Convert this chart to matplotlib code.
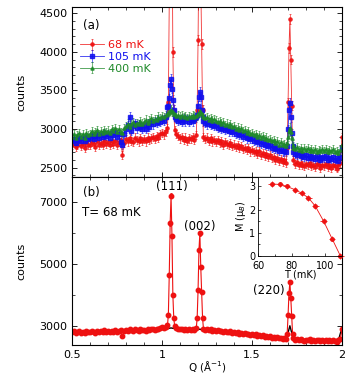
import numpy as np
import matplotlib
matplotlib.use('Agg')
import matplotlib.pyplot as plt
from matplotlib.ticker import MultipleLocator, FixedLocator, FuncFormatter

# Q grid (0.01 step) + extra points on the Bragg peaks
q_grid = np.round(np.arange(0.50, 2.0001, 0.01), 2)
q_extra = [1.035, 1.045, 1.055, 1.065, 1.195, 1.205, 1.215, 1.225, 1.695, 1.705, 1.715, 1.725]

red_grid = [2790, 2820, 2770, 2800, 2840, 2780, 2810, 2760, 2830, 2800,
            2790, 2830, 2810, 2770, 2840, 2800, 2820, 2790, 2850, 2810,
            2830, 2790, 2840, 2810, 2850, 2800, 2830, 2860, 2670, 2820,
            2870, 2840, 2880, 2850, 2830, 2890, 2860, 2840, 2880, 2850,
            2870, 2840, 2890, 2860, 2880, 2900, 2870, 2910, 2890, 2930,
            2950, 2930, 2970, 3010, 4650, 7200, 4000, 2990, 2940, 2910,
            2880, 2900, 2860, 2890, 2850, 2880, 2870, 2900, 2860, 2920,
            4150, 5980, 4100, 2900, 2870, 2890, 2850, 2880, 2840, 2860,
            2830, 2860, 2820, 2840, 2800, 2830, 2810, 2790, 2820, 2780,
            2800, 2770, 2790, 2750, 2780, 2740, 2760, 2730, 2750, 2710,
            2730, 2700, 2720, 2680, 2710, 2670, 2690, 2650, 2680, 2640,
            2660, 2620, 2640, 2600, 2630, 2590, 2610, 2570, 2600, 2560,
            3350, 4420, 3300, 2600, 2550, 2570, 2530, 2560, 2540, 2520,
            2550, 2530, 2560, 2520, 2540, 2510, 2550, 2530, 2500, 2540,
            2520, 2550, 2510, 2530, 2500, 2540, 2520, 2490, 2530, 2560,
            2900]
red_extra = [3350, 6300, 5900, 3250, 3250, 5450, 4900, 3250, 2750, 4050, 3900, 2750]

blue_grid = [2840, 2870, 2820, 2860, 2890, 2850, 2880, 2840, 2900, 2870,
             2890, 2920, 2870, 2910, 2940, 2880, 2920, 2900, 2950, 2910,
             2930, 2890, 2950, 2920, 2960, 2900, 2940, 2830, 2800, 2940,
             3000, 3050, 3160, 2980, 3040, 3080, 3010, 3060, 3030, 3000,
             3050, 3000, 3070, 3030, 3090, 3060, 3100, 3080, 3120, 3090,
             3130, 3110, 3150, 3280, 3400, 3650, 3380, 3150, 3130, 3110,
             3120, 3090, 3140, 3100, 3130, 3090, 3120, 3100, 3130, 3150,
             3300, 3480, 3250, 3100, 3080, 3060, 3090, 3050, 3070, 3040,
             3050, 3020, 3040, 3000, 3020, 2990, 3000, 2970, 2990, 2960,
             2970, 2940, 2960, 2920, 2940, 2900, 2920, 2880, 2900, 2870,
             2880, 2850, 2870, 2830, 2850, 2810, 2830, 2800, 2810, 2780,
             2790, 2760, 2780, 2740, 2760, 2720, 2740, 2710, 2720, 2700,
             3000, 3340, 2950, 2700, 2680, 2660, 2690, 2650, 2670, 2640,
             2660, 2630, 2650, 2620, 2640, 2610, 2650, 2620, 2600, 2640,
             2620, 2650, 2600, 2630, 2610, 2640, 2600, 2620, 2590, 2640,
             2760]
blue_extra = [3300, 3570, 3520, 3250, 3180, 3420, 3420, 3150, 2780, 3250, 3150, 2780]

green_grid = [2900, 2930, 2880, 2920, 2950, 2900, 2940, 2890, 2950, 2920,
              2940, 2970, 2930, 2960, 2990, 2940, 2970, 2950, 2990, 2960,
              2980, 2950, 3000, 2970, 3010, 2960, 3000, 2960, 2950, 3010,
              3040, 3070, 3030, 3060, 3090, 3050, 3080, 3060, 3100, 3070,
              3090, 3120, 3080, 3110, 3140, 3100, 3130, 3120, 3160, 3140,
              3170, 3150, 3180, 3200, 3220, 3250, 3220, 3190, 3170, 3180,
              3160, 3180, 3150, 3170, 3140, 3170, 3150, 3180, 3160, 3170,
              3200, 3230, 3190, 3160, 3140, 3150, 3120, 3140, 3110, 3130,
              3110, 3090, 3100, 3070, 3090, 3050, 3070, 3040, 3060, 3030,
              3040, 3000, 3020, 2990, 3010, 2970, 2990, 2950, 2970, 2940,
              2950, 2920, 2940, 2900, 2920, 2890, 2910, 2870, 2890, 2860,
              2870, 2840, 2860, 2820, 2840, 2800, 2830, 2790, 2810, 2780,
              2900, 3020, 2880, 2760, 2740, 2770, 2730, 2760, 2720, 2750,
              2730, 2750, 2720, 2740, 2710, 2740, 2700, 2730, 2710, 2740,
              2720, 2740, 2700, 2730, 2710, 2740, 2700, 2720, 2690, 2730,
              2800]
green_extra = [3210, 3240, 3230, 3200, 3180, 3210, 3210, 3170, 2820, 2970, 2960, 2800]

# black line in panel (b)
q_blk = [0.50, 0.60, 0.70, 0.80, 0.90, 1.00, 1.03, 1.05, 1.07, 1.10, 1.19, 1.21, 1.23,
         1.30, 1.40, 1.50, 1.60, 1.68, 1.70, 1.71, 1.72, 1.74, 1.80, 1.90, 1.98, 2.00]
blk = [2800, 2810, 2830, 2850, 2870, 2900, 2910, 2930, 2910, 2890, 2870, 2890, 2860,
       2830, 2780, 2720, 2650, 2610, 2780, 3000, 2780, 2570, 2550, 2530, 2540, 2950]

# inset: ordered moment vs T
T_mk = [68, 73, 77, 82, 86, 90, 94, 99, 104, 109]
M_ub = [3.1, 3.08, 3.0, 2.85, 2.7, 2.5, 2.15, 1.5, 0.75, 0.0]

q = np.concatenate([q_grid, q_extra])
order = np.argsort(q)
q = q[order]
red = np.concatenate([red_grid, red_extra])[order]
blue = np.concatenate([blue_grid, blue_extra])[order]
green = np.concatenate([green_grid, green_extra])[order]

plt.rcParams['font.size'] = 8
plt.rcParams['xtick.direction'] = 'in'
plt.rcParams['ytick.direction'] = 'in'

fig = plt.figure(figsize=(3.62, 3.77), dpi=100)
ax1 = fig.add_axes([0.199, 0.5305, 0.746, 0.451])
ax2 = fig.add_axes([0.199, 0.0849, 0.746, 0.4456])

fmt_g = FuncFormatter(lambda v, p: '%g' % v)

# (a)
for y, color, mk, lab in [(red, '#ee1111', 'o', '68 mK'),
                           (blue, '#1010ee', 's', '105 mK'),
                           (green, '#1f8a2a', '^', '400 mK')]:
    ax1.errorbar(q, y, yerr=np.sqrt(y), fmt='-', marker=mk, color=color, ms=2.3,
                 lw=0.6, elinewidth=0.5, capsize=1.0, capthick=0.5, label=lab,
                 alpha=0.85)

leg = ax1.legend(loc='upper left', bbox_to_anchor=(0.0, 0.85), frameon=False,
                 fontsize=8, handlelength=2.2, handletextpad=0.3, labelspacing=0.15,
                 borderaxespad=0.3)
for t, c in zip(leg.get_texts(), ['#ee1111', '#1010ee', '#1f8a2a']):
    t.set_color(c)

ax1.set_xlim(0.5, 2.0)
ax1.set_ylim(2380, 4580)
ax1.yaxis.set_major_locator(MultipleLocator(500))
ax1.yaxis.set_minor_locator(MultipleLocator(100))
ax1.set_ylabel('counts')
ax1.yaxis.set_label_coords(-0.17, 0.5)
ax1.text(0.04, 0.89, '(a)', transform=ax1.transAxes, fontsize=8.5, va='center')

# (b)
ax2.plot(q_blk, blk, color='black', lw=1.0, zorder=1)
ax2.errorbar(q, red, yerr=np.sqrt(red), fmt='-', marker='o', color='#ee1111', ms=3.2,
             lw=0.8, elinewidth=0.6, capsize=1.0, capthick=0.6, zorder=2)
ax2.set_xlim(0.5, 2.0)
ax2.set_ylim(2380, 7800)
ax2.yaxis.set_major_locator(FixedLocator([3000, 5000, 7000]))
ax2.yaxis.set_minor_locator(FixedLocator([4000, 6000]))
ax2.set_ylabel('counts')
ax2.yaxis.set_label_coords(-0.17, 0.5)
ax2.set_xlabel('Q (Å$^{-1}$)', fontsize=7.5, va='top')
ax2.xaxis.set_label_coords(0.5, -0.085)
ax2.text(0.04, 0.91, '(b)', transform=ax2.transAxes, fontsize=8.5, va='center')
ax2.text(0.037, 0.786, 'T= 68 mK', transform=ax2.transAxes, fontsize=8.5, va='center')
ax2.text(1.055, 7500, '(111)', ha='center', va='center', fontsize=8.5)
ax2.text(1.21, 6216, '(002)', ha='center', va='center', fontsize=8.5)
ax2.text(1.594, 4150, '(220)', ha='center', va='center', fontsize=8.5)

for ax in (ax1, ax2):
    ax.xaxis.set_major_locator(MultipleLocator(0.5))
    ax.xaxis.set_minor_locator(MultipleLocator(0.1))
    ax.xaxis.set_major_formatter(fmt_g)
    ax.tick_params(which='both', top=True, right=True)
    ax.tick_params(which='major', length=3.5, width=0.6)
    ax.tick_params(which='minor', length=2, width=0.5)
    for s in ax.spines.values():
        s.set_linewidth(0.8)
ax1.tick_params(labelbottom=False)

# inset
axi = fig.add_axes([0.713, 0.321, 0.232, 0.2095])
axi.errorbar(T_mk, M_ub, xerr=2, yerr=0.12, fmt='-', marker='o', color='#ee1111',
             ms=2.5, lw=0.6, elinewidth=0.6, capsize=0, clip_on=False)
axi.set_xlim(60, 110)
axi.set_ylim(0, 3.4)
axi.xaxis.set_major_locator(MultipleLocator(20))
axi.xaxis.set_minor_locator(MultipleLocator(10))
axi.yaxis.set_major_locator(MultipleLocator(1))
axi.yaxis.set_minor_locator(MultipleLocator(0.5))
axi.tick_params(which='both', labelsize=7)
axi.tick_params(axis='y', pad=2)
axi.tick_params(axis='x', pad=3.5)
axi.tick_params(which='major', length=2.5, width=0.5)
axi.tick_params(which='minor', length=1.5, width=0.5)
axi.set_xlabel('T (mK)', fontsize=7, labelpad=-1)
axi.set_ylabel('M (μ$_B$)', fontsize=7, labelpad=1)
for s in axi.spines.values():
    s.set_linewidth(0.6)

fig.savefig('out.png', dpi=100)
